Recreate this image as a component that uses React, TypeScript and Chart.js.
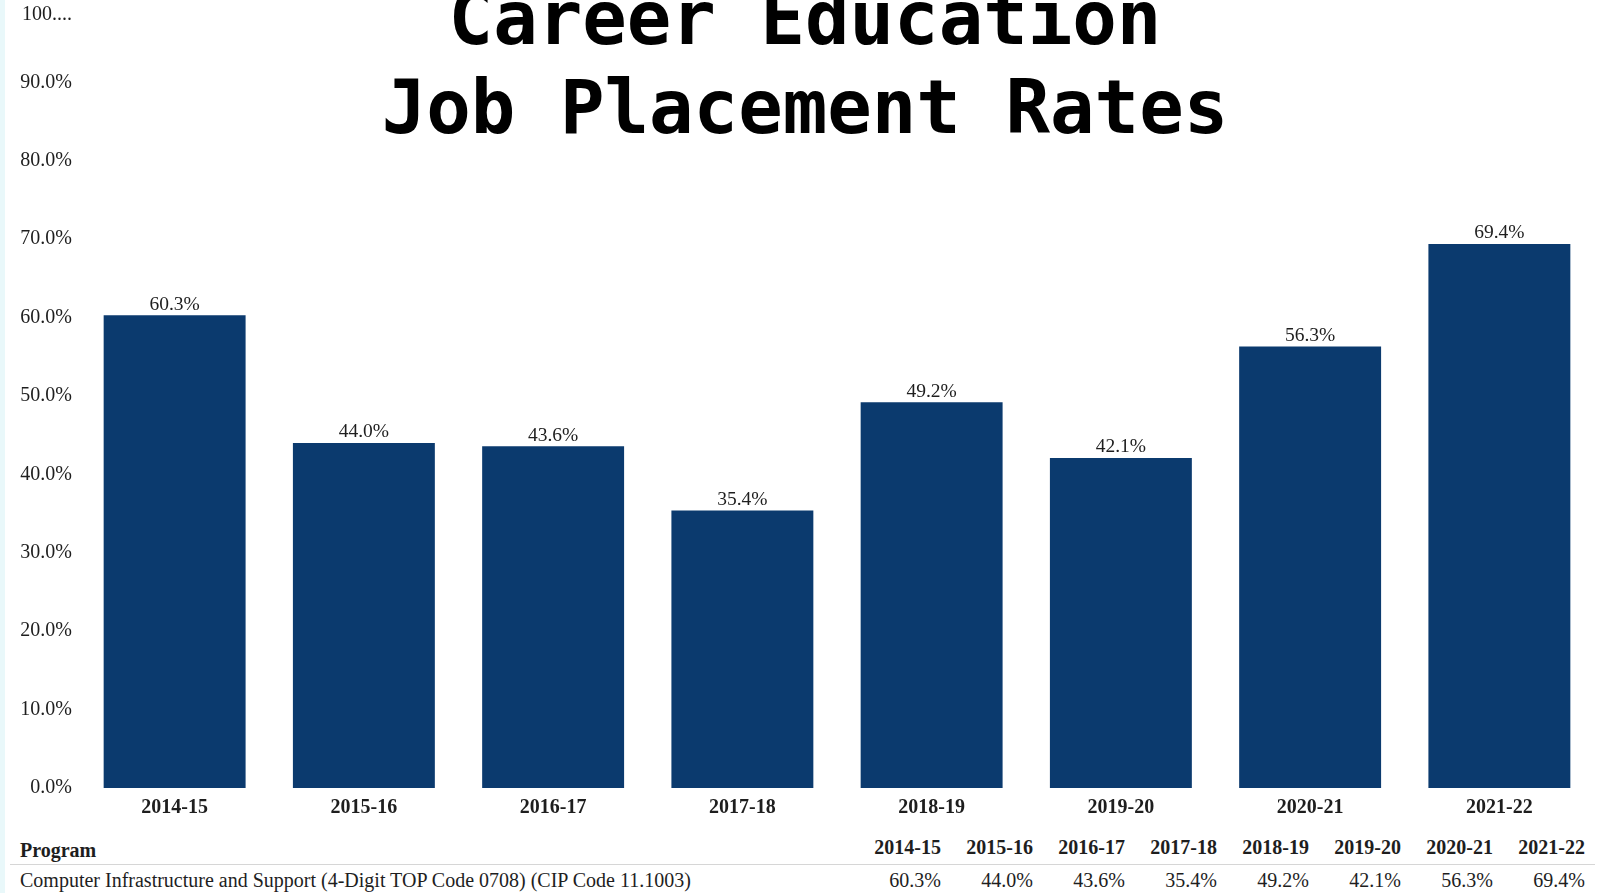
import React, { useEffect, useRef } from "react";
import { Chart, registerables } from "chart.js";

Chart.register(...registerables);

const categories = ["2014-15", "2015-16", "2016-17", "2017-18", "2018-19", "2019-20", "2020-21", "2021-22"];
const placementRates = [60.3, 44.0, 43.6, 35.4, 49.2, 42.1, 56.3, 69.4];
const programName = "Computer Infrastructure and Support (4-Digit TOP Code 0708) (CIP Code 11.1003)";
const titleLines = ["Career Education", "Job Placement Rates"];
const yTickValues = [0, 10, 20, 30, 40, 50, 60, 70, 80, 90, 100];

const SERIF = '"Liberation Serif", "Times New Roman", serif';
const MONO = '"DejaVu Sans Mono", "Liberation Mono", monospace';
const BAR_COLOR = "#0b3a6e";
const TEXT_COLOR = "#1e1e1e";

const valueLabelPlugin = {
  id: "valueLabels",
  afterDatasetsDraw(chart: any) {
    const ctx = chart.ctx;
    const meta = chart.getDatasetMeta(0);
    ctx.save();
    ctx.font = `19.5px ${SERIF}`;
    ctx.fillStyle = TEXT_COLOR;
    ctx.textAlign = "center";
    ctx.textBaseline = "bottom";
    meta.data.forEach((bar: any, i: number) => {
      const v = chart.data.datasets[0].data[i] as number;
      ctx.fillText(v.toFixed(1) + "%", bar.x, bar.y - 1);
    });
    ctx.restore();
  },
};

export default function App() {
  const canvasRef = useRef<HTMLCanvasElement | null>(null);

  useEffect(() => {
    document.body.style.margin = "0";
    const canvas = canvasRef.current;
    if (!canvas) return;
    const chart = new Chart(canvas, {
      type: "bar",
      data: {
        labels: categories,
        datasets: [
          {
            data: placementRates,
            backgroundColor: BAR_COLOR,
            borderWidth: 0,
            categoryPercentage: 1,
            barPercentage: 0.75,
          },
        ],
      },
      options: {
        animation: false,
        responsive: false,
        devicePixelRatio: 1,
        layout: { padding: { left: 0, right: 6, top: 4, bottom: 0 } },
        plugins: {
          legend: { display: false },
          title: { display: false },
          tooltip: { enabled: false },
        },
        scales: {
          x: {
            grid: { display: false, drawTicks: false },
            border: { display: false },
            ticks: {
              color: TEXT_COLOR,
              font: { family: SERIF, size: 20, weight: "bold" },
              padding: 8,
              maxRotation: 0,
            },
            afterFit(scale: any) {
              scale.height = 33;
              scale.paddingLeft = 0;
              scale.paddingRight = 0;
            },
          },
          y: {
            min: 0,
            max: 100,
            afterBuildTicks(scale: any) {
              scale.ticks = yTickValues.map((v) => ({ value: v }));
            },
            grid: { display: false, drawTicks: false },
            border: { display: false },
            ticks: {
              color: TEXT_COLOR,
              font: { family: SERIF, size: 20, lineHeight: 1.1 },
              padding: 8,
              callback: (v: any) => (Number(v) === 100 ? ["", "100...."] : Number(v).toFixed(1) + "%"),
            },
            afterFit(scale: any) {
              scale.width = 80;
              scale.paddingTop = 0;
              scale.paddingBottom = 0;
            },
          },
        },
      },
      plugins: [valueLabelPlugin],
    });
    return () => chart.destroy();
  }, []);

  const colRight = (i: number) => 941 + i * 92;

  return (
    <div
      style={{
        position: "fixed",
        left: 0,
        top: 0,
        width: 1600,
        height: 893,
        overflow: "hidden",
        background: "#ffffff",
      }}
    >
      <div style={{ position: "absolute", left: 0, top: 0, width: 5, height: 893, background: "#e9f8fa" }} />
      <canvas
        ref={canvasRef}
        width={1600}
        height={821}
        style={{ position: "absolute", left: 0, top: 0, width: 1600, height: 821, display: "block" }}
      />
      <div
        style={{
          position: "absolute",
          left: 305,
          top: -26,
          width: 1000,
          textAlign: "center",
          fontFamily: MONO,
          fontWeight: "bold",
          fontSize: 74,
          lineHeight: "89px",
          color: "#000",
          whiteSpace: "nowrap",
        }}
      >
        {titleLines.map((t) => (
          <div key={t}>{t}</div>
        ))}
      </div>
      <div
        style={{
          position: "absolute",
          left: 20,
          top: 838,
          fontFamily: SERIF,
          fontWeight: "bold",
          fontSize: 20,
          lineHeight: "24px",
          color: TEXT_COLOR,
        }}
      >
        Program
      </div>
      <div
        style={{
          position: "absolute",
          left: 10,
          top: 864,
          width: 1585,
          height: 1,
          background: "#d6d6d6",
        }}
      />
      <div
        style={{
          position: "absolute",
          left: 20,
          top: 868,
          fontFamily: SERIF,
          fontSize: 20,
          lineHeight: "24px",
          color: TEXT_COLOR,
          whiteSpace: "nowrap",
        }}
      >
        {programName}
      </div>
      {categories.map((c, i) => (
        <div
          key={"h" + c}
          style={{
            position: "absolute",
            left: colRight(i) - 90,
            width: 90,
            top: 835,
            textAlign: "right",
            fontFamily: SERIF,
            fontWeight: "bold",
            fontSize: 20,
            lineHeight: "24px",
            color: TEXT_COLOR,
          }}
        >
          {c}
        </div>
      ))}
      {placementRates.map((v, i) => (
        <div
          key={"v" + i}
          style={{
            position: "absolute",
            left: colRight(i) - 90,
            width: 90,
            top: 868,
            textAlign: "right",
            fontFamily: SERIF,
            fontSize: 20,
            lineHeight: "24px",
            color: TEXT_COLOR,
          }}
        >
          {v.toFixed(1) + "%"}
        </div>
      ))}
    </div>
  );
}
